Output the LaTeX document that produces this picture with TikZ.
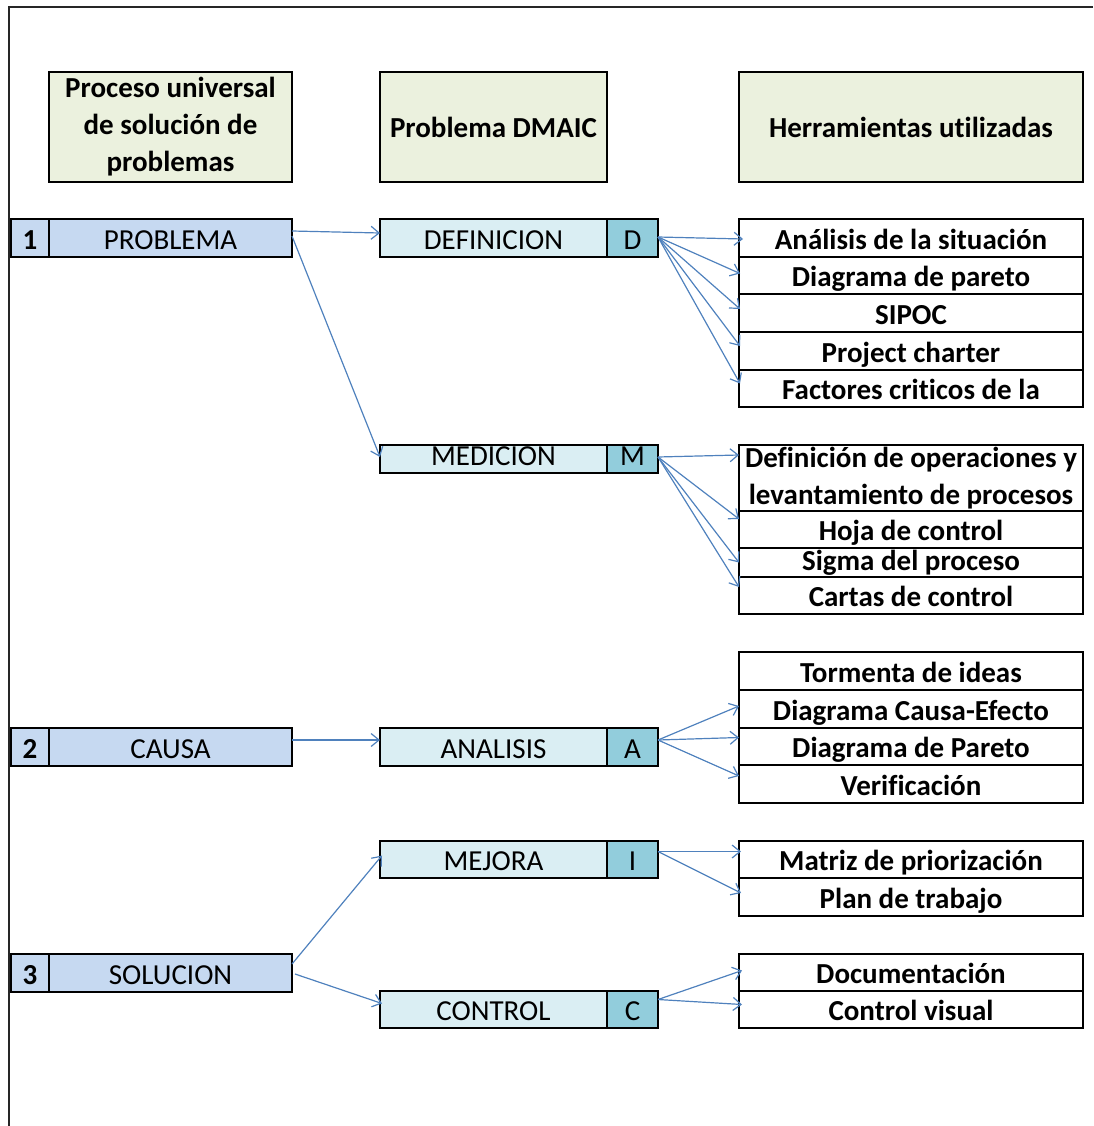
\documentclass[tikz,border=0pt]{standalone}
\usepackage{fontspec}
\setmainfont[Ligatures=NoCommon]{Carlito}
\usetikzlibrary{arrows.meta,calc}
\definecolor{hdrfill}{HTML}{EBF1DE}
\definecolor{leftfill}{HTML}{C6D9F1}
\definecolor{midfill}{HTML}{DAEEF3}
\definecolor{letfill}{HTML}{92CDDC}
\definecolor{arrc}{HTML}{4F81BD}
\begin{document}
\begin{tikzpicture}[x=1pt,y=-1pt,
  box/.style={draw=black,line width=1.6pt,inner sep=0pt,outer sep=0pt,anchor=north west,
    font=\fontsize{29}{37}\selectfont},
  tx/.style={text height=24pt,text depth=2pt},
  hd/.style={box,fill=hdrfill,font=\bfseries\fontsize{29}{37}\selectfont,align=center,minimum height=110pt},
  numbox/.style={box,tx,fill=leftfill,font=\bfseries\fontsize{29}{37}\selectfont,minimum width=38pt,minimum height=38pt},
  leftbox/.style={box,tx,fill=leftfill,minimum width=243pt,minimum height=38pt},
  midbox/.style={box,tx,fill=midfill,minimum width=227pt},
  letbox/.style={box,tx,fill=letfill,minimum width=51pt},
  tool/.style={box,tx,fill=white,font=\bfseries\fontsize{29}{37}\selectfont,minimum width=344pt},
  arr/.style={draw=arrc,line width=1.2pt,-{Straight Barb[length=8pt,width=13pt,line width=1.2pt]}}]
\useasboundingbox (0,0) rectangle (1093,1126);
\draw[line width=2pt,black!85] (1093,7) -- (9,7) -- (9,1126);

% headers
\node[hd,minimum width=243pt] (h1) at (49,72) {Proceso universal\\de solución de\\problemas};
\node[hd,minimum width=227pt] (h2) at (380,72) {Problema DMAIC};
\node[hd,minimum width=344pt] (h3) at (739,72) {Herramientas utilizadas};

% left column
\node[numbox] (n1) at (11,219) {1};
\node[leftbox] (pb) at (49,219) {PROBLEMA};
\node[numbox] (n2) at (11,728) {2};
\node[leftbox] (ca) at (49,728) {CAUSA};
\node[numbox] (n3) at (11,954) {3};
\node[leftbox] (so) at (49,954) {SOLUCION};

% middle column
\node[midbox,minimum height=38pt] (def) at (380,219) {DEFINICION};
\node[letbox,minimum height=38pt] (dD) at (607,219) {D};
\node[midbox,minimum height=28pt,text height=16pt,text depth=3pt] (med) at (380,445) {MEDICION};
\node[letbox,minimum height=28pt,text height=16pt,text depth=3pt] (dM) at (607,445) {M};
\node[midbox,minimum height=38pt] (ana) at (380,728) {ANALISIS};
\node[letbox,minimum height=38pt] (dA) at (607,728) {A};
\node[midbox,minimum height=37pt] (mej) at (380,841) {MEJORA};
\node[letbox,minimum height=37pt] (dI) at (607,841) {I};
\node[midbox,minimum height=37pt] (con) at (380,991) {CONTROL};
\node[letbox,minimum height=37pt] (dC) at (607,991) {C};

% tools D
\node[tool,minimum height=38pt] (t1) at (739,219) {Análisis de la situación};
\node[tool,minimum height=37pt] (t2) at (739,257) {Diagrama de pareto};
\node[tool,minimum height=38pt] (t3) at (739,294) {SIPOC};
\node[tool,minimum height=38pt] (t4) at (739,332) {Project charter};
\node[tool,minimum height=37pt] (t5) at (739,370) {Factores criticos de la};
% tools M
\node[box,fill=white,font=\bfseries\fontsize{29}{37}\selectfont,align=center,minimum width=344pt,minimum height=66pt] (m1) at (739,445) {Definición de operaciones y\\levantamiento de procesos};
\node[tool,minimum height=37pt] (m2) at (739,511) {Hoja de control};
\node[tool,minimum height=29pt,text height=18pt,text depth=3pt] (m3) at (739,548) {Sigma del proceso};
\node[tool,minimum height=37pt] (m4) at (739,577) {Cartas de control};
% tools A
\node[tool,minimum height=38pt] (a1) at (739,652) {Tormenta de ideas};
\node[tool,minimum height=38pt] (a2) at (739,690) {Diagrama Causa-Efecto};
\node[tool,minimum height=37pt] (a3) at (739,728) {Diagrama de Pareto};
\node[tool,minimum height=38pt] (a4) at (739,765) {Verificación};
% tools I
\node[tool,minimum height=37pt] (i1) at (739,841) {Matriz de priorización};
\node[tool,minimum height=38pt] (i2) at (739,878) {Plan de trabajo};
% tools C
\node[tool,minimum height=37pt] (c1) at (739,954) {Documentación};
\node[tool,minimum height=37pt] (c2) at (739,991) {Control visual};

% arrows left -> middle
\draw[arr] ($(pb.east)+(0,-7)$) -- ($(def.west)+(0,-5)$);
\draw[arr] ($(pb.east)+(0,-2)$) -- ($(med.west)+(0,-2)$);
\draw[arr] ($(ca.east)+(0,-7)$) -- ($(ana.west)+(0,-7)$);
\draw[arr] ($(so.east)+(0,-9)$) -- ($(mej.west)+(2,-4)$);
\draw[arr] ($(so.east)+(3,1)$) -- ($(con.west)+(2,-6)$);

% arrows D
\draw[arr] ($(dD.east)+(0,-1)$) -- ($(t1.west)+(4,1)$);
\draw[arr] ($(dD.east)+(0,-1)$) -- ($(t2.west)+(1,-2)$);
\draw[arr] ($(dD.east)+(0,-1)$) -- ($(t3.west)+(1,-4)$);
\draw[arr] ($(dD.east)+(0,-1)$) -- ($(t4.west)+(1,-5)$);
\draw[arr] ($(dD.east)+(0,-1)$) -- ($(t5.west)+(1,-5)$);
% arrows M
\draw[arr] ($(dM.east)+(0,-2)$) -- ($(m1.north west)+(0,10)$);
\draw[arr] ($(dM.east)+(0,-2)$) -- ($(m2.north west)+(0,8)$);
\draw[arr] ($(dM.east)+(0,-2)$) -- ($(m3.west)$);
\draw[arr] ($(dM.east)+(0,-2)$) -- ($(m4.north west)+(0,10)$);
% arrows A
\draw[arr] ($(dA.east)+(0,-7)$) -- ($(a2.west)+(0,-3)$);
\draw[arr] ($(dA.east)+(0,-7)$) -- ($(a3.west)+(0,-9)$);
\draw[arr] ($(dA.east)+(0,-7)$) -- ($(a4.west)+(0,-8)$);
% arrows I
\draw[arr] ($(dI.east)+(0,-8)$) -- ($(i1.west)+(2,-8)$);
\draw[arr] ($(dI.east)+(0,-8)$) -- ($(i2.west)+(2,-4)$);
% arrows C
\draw[arr] ($(dC.east)+(0,-10)$) -- ($(c1.west)+(3,-2)$);
\draw[arr] ($(dC.east)+(0,-10)$) -- ($(c2.west)+(3,-5)$);
\end{tikzpicture}
\end{document}
